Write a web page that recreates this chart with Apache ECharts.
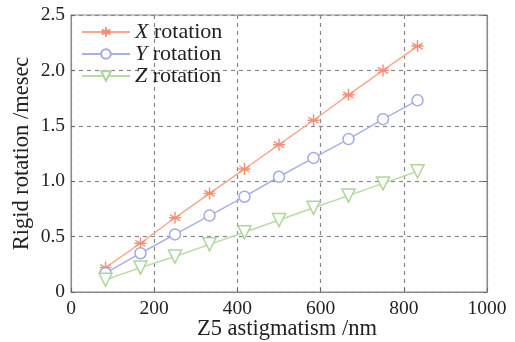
<!DOCTYPE html>
<html><head><meta charset="utf-8">
<script src="https://cdn.jsdelivr.net/npm/echarts@6/dist/echarts.min.js"></script>
<style>html,body{margin:0;padding:0;background:#fff}#c{width:515px;height:342px}</style>
</head><body><div id="c"></div>
<script>
const xValues = [83, 167, 250, 333, 417, 500, 583, 667, 750, 833];
const xRotation = [0.22, 0.44, 0.67, 0.89, 1.11, 1.33, 1.55, 1.78, 2.00, 2.22];
const yRotation = [0.17, 0.35, 0.52, 0.69, 0.86, 1.04, 1.21, 1.38, 1.56, 1.73];
const zRotation = [0.11, 0.22, 0.32, 0.43, 0.54, 0.65, 0.76, 0.87, 0.98, 1.09];
const seriesNames = ['X rotation', 'Y rotation', 'Z rotation'];
const xAxisTitle = 'Z5 astigmatism /nm';
const yAxisTitle = 'Rigid rotation /mesec';

const font = 'Liberation Serif';
const pair = (xs, ys) => xs.map((x, i) => [x, ys[i]]);
const asterisk = 'path://M0,-5L0,5M-4.33,-2.5L4.33,2.5M-4.33,2.5L4.33,-2.5M-5,0L5,0';
const split = { show: true, lineStyle: { type: [4, 4], color: '#888', width: 1.2 } };

const chart = echarts.init(document.getElementById('c'));
chart.setOption({
  animation: false,
  grid: { left: 71, right: 28, top: 15, bottom: 50, show: true, borderColor: '#8a8a8a', borderWidth: 1,
          outerBoundsMode: 'none', containLabel: false },
  legend: {
    left: 81, top: 21, padding: 0, orient: 'vertical', itemGap: 0, itemWidth: 48, itemHeight: 12,
    formatter: n => '{i|' + n.charAt(0) + '} ' + n.slice(2),
    textStyle: { fontFamily: font, fontSize: 22, lineHeight: 21.5, color: '#222',
      rich: { i: { fontStyle: 'italic', fontFamily: font, fontSize: 22, lineHeight: 21.5, color: '#222' } } },
    data: seriesNames
  },
  xAxis: {
    type: 'value', min: 0, max: 1000, interval: 200,
    name: xAxisTitle, nameLocation: 'middle', nameGap: 26, nameMoveOverlap: false,
    nameTextStyle: { fontFamily: font, fontSize: 22.5, color: '#222', padding: [0, 0, 0, 16] },
    axisLine: { show: true, lineStyle: { color: '#8a8a8a' } },
    axisTick: { inside: true, length: 4, lineStyle: { color: '#666' } },
    axisLabel: { fontFamily: font, fontSize: 19.5, color: '#222', margin: 7, formatter: v => String(v) },
    splitLine: split
  },
  yAxis: [{
    type: 'value', min: 0, max: 2.5, interval: 0.5,
    name: yAxisTitle, nameLocation: 'middle', nameGap: 37, nameMoveOverlap: false,
    nameTextStyle: { fontFamily: font, fontSize: 22.5, color: '#222' },
    axisLine: { show: true, lineStyle: { color: '#8a8a8a' } },
    axisTick: { show: true, inside: true, length: 4, lineStyle: { color: '#666' } },
    axisLabel: { fontFamily: font, fontSize: 19.5, color: '#222', margin: 6,
      formatter: v => v === 0 ? '0' : v.toFixed(1) },
    splitLine: split
  }, {
    type: 'value', min: 0, max: 2.5, interval: 0.5, position: 'right',
    axisLine: { show: true, lineStyle: { color: '#8a8a8a' } },
    axisTick: { show: true, inside: true, length: 4, lineStyle: { color: '#666' } },
    axisLabel: { show: false }, splitLine: { show: false }
  }],
  series: [
    { name: seriesNames[0], type: 'line', data: pair(xValues, xRotation),
      symbol: asterisk, symbolSize: 12,
      lineStyle: { color: '#f8a88f', width: 1.5 },
      itemStyle: { color: '#f58e72', borderColor: '#f58e72', borderWidth: 1.4 } },
    { name: seriesNames[1], type: 'line', data: pair(xValues, yRotation),
      symbol: 'circle', symbolSize: 11,
      lineStyle: { color: '#a9b0e6', width: 1.5 },
      itemStyle: { color: '#fff', borderColor: '#a3aae6', borderWidth: 1.5 } },
    { name: seriesNames[2], type: 'line', data: pair(xValues, zRotation),
      symbol: 'triangle', symbolRotate: 180, symbolSize: 13,
      lineStyle: { color: '#b8dca6', width: 1.5 },
      itemStyle: { color: '#fff', borderColor: '#aed69a', borderWidth: 1.5 } }
  ]
});
</script></body></html>
